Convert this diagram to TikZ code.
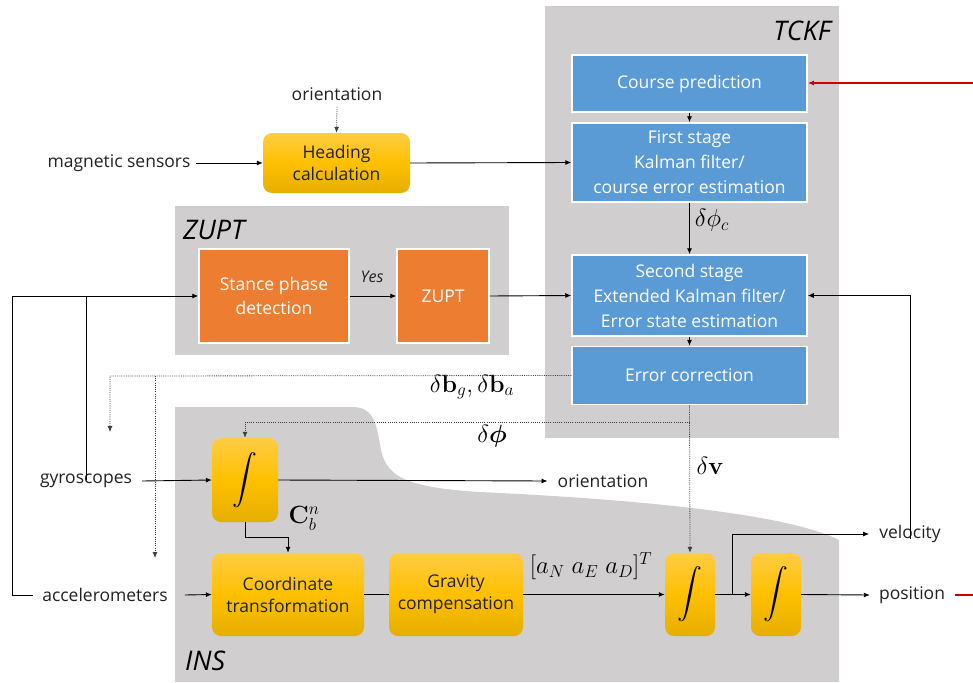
\documentclass[tikz,border=0pt]{standalone}
\usepackage{amsmath,bm}
\usepackage[no-math]{fontspec}
\setmainfont{Open Sans}
\usetikzlibrary{arrows.meta,calc}
\definecolor{gbg}{HTML}{D0CECE}
\definecolor{bfill}{HTML}{5B9BD5}
\definecolor{ofill}{HTML}{ED7D31}
\definecolor{ytop}{HTML}{FFCC44}
\definecolor{ymid}{HTML}{FFC000}
\definecolor{ybot}{HTML}{E5AE00}
\definecolor{txt}{HTML}{222222}
\definecolor{redline}{HTML}{D00000}
\tikzset{
  arr/.style={draw=black, line width=0.9pt, -{Latex[length=6pt,width=5pt]}},
  plain/.style={draw=black, line width=0.9pt},
  redarr/.style={draw=redline, fill=redline, line width=1.4pt, -{Latex[length=6pt,width=5pt]}},
  redplain/.style={draw=redline, line width=1.4pt},
  dotl/.style={draw=black!75, line width=0.8pt, dash pattern=on 1pt off 1.2pt},
  dotarr/.style={dotl, -{Latex[length=6pt,width=5pt]}},
  bbox/.style={rectangle, fill=bfill, draw=white, line width=1.5pt, text=white, align=center, inner sep=0pt, font=\fontsize{17.5}{25}\selectfont},
  obox/.style={rectangle, fill=ofill, draw=white, line width=1.5pt, text=white, align=center, inner sep=0pt, font=\fontsize{17.5}{24}\selectfont},
  ybox/.style={rectangle, rounded corners=9pt, top color=ytop, bottom color=ybot, middle color=ymid, draw=none, text=txt, align=center, inner sep=0pt, font=\fontsize{17.5}{22}\selectfont},
  lbl/.style={text=txt, inner sep=0pt, font=\fontsize{17.5}{20}\selectfont},
  mlbl/.style={text=black, inner sep=0pt, font=\fontsize{23}{24}\selectfont},
  title/.style={text=black, inner sep=0pt, font=\fontsize{27}{30}\selectfont\itshape},
  intg/.style={ybox, text=black, font=\fontsize{34}{36}\selectfont}
}
\begin{document}
\begin{tikzpicture}[x=1pt,y=-1pt]
\useasboundingbox (0,0) rectangle (973,682);
% gray regions
\fill[gbg] (175,682) -- (175,407) -- (352,407) .. controls (372,407) and (376,420) .. (380,445)
  .. controls (385,475) and (400,487) .. (480,492)
  .. controls (650,500) and (790,515) .. (839,540) -- (839,682) -- cycle;
\fill[gbg] (175,206) rectangle (509,355);
\fill[gbg] (545,6) rectangle (839,438);
\node[title, anchor=east] (tckf) at (831,31) {TCKF};
\node[title, anchor=west] (zuptl) at (183,230) {ZUPT};
\node[title, anchor=west] (insl) at (185,661) {INS};

% TCKF boxes
\node[bbox, minimum width=235pt, minimum height=57pt] (course) at (689.5,83.5) {Course prediction};
\node[bbox, minimum width=235pt, minimum height=79pt] (first) at (689.5,162.5) {First stage\\Kalman filter/\\course error estimation};
\node[bbox, minimum width=235pt, minimum height=81pt] (second) at (689.5,295.5) {Second stage\\Extended Kalman filter/\\Error state estimation};
\node[bbox, minimum width=235pt, minimum height=58pt] (errc) at (689.5,375.5) {Error correction};

% ZUPT boxes
\node[obox, minimum width=150pt, minimum height=94pt] (stance) at (274,296) {Stance phase\\detection};
\node[obox, minimum width=92pt, minimum height=94pt] (zupt) at (443,296) {ZUPT};

% yellow boxes
\node[ybox, minimum width=147pt, minimum height=60pt] (head) at (336.5,163) {Heading\\calculation};
\node[intg, minimum width=66pt, minimum height=84pt] (int1) at (245,480) {$\displaystyle\int$};
\node[ybox, minimum width=152pt, minimum height=83pt] (coord) at (288,594.5) {Coordinate\\transformation};
\node[ybox, minimum width=134pt, minimum height=83pt] (grav) at (456,594.5) {Gravity\\compensation};
\node[intg, minimum width=50pt, minimum height=83pt] (int2) at (690,594.5) {$\displaystyle\int$};
\node[intg, minimum width=50pt, minimum height=83pt] (int3) at (776,594.5) {$\displaystyle\int$};

% text labels
\node[lbl] (orient1) at (337,94) {orientation};
\node[lbl] (mag) at (119,163) {magnetic sensors};
\node[lbl] (gyro) at (86,481) {gyroscopes};
\node[lbl] (acc) at (105,595) {accelerometers};
\node[lbl] (orient2) at (603,481) {orientation};
\node[lbl] (vel) at (910,534) {velocity};
\node[lbl] (pos) at (912,595) {position};
\node[text=txt, inner sep=0pt, font=\fontsize{16}{18}\selectfont\itshape] (yes) at (372,277) {Yes};

% math labels
\node[mlbl] (dbl) at (472,387) {$\delta\mathbf{b}_g,\delta\mathbf{b}_a$};
\node[mlbl] (dphil) at (492,436) {$\delta\bm{\phi}$};
\node[mlbl] (dvl) at (710,466) {$\delta\mathbf{v}$};
\node[mlbl] (cbn) at (304,518) {$\mathbf{C}_b^n$};
\node[mlbl] (avec) at (591,566) {$[a_N\;a_E\;a_D]^T$};

% coordinates for free ends
\coordinate (redin) at (973,83);
\coordinate (redout) at (973,595);
\coordinate (lbus) at (12,595);
\coordinate (dleft) at (110,376);
\coordinate (dgyro) at (110,432);
\coordinate (dbr) at (155,376);
\coordinate (dacc) at (155,558);
\coordinate (dphi) at (690,422);

% connectors
\draw[redarr] (redin) -- (course.east |- redin);
\draw[redplain] ([xshift=10pt]pos.east) -- (redout);
\draw[arr] (course.south) -- (first.north);
\draw[arr] (first.south) -- node[mlbl, right=5pt, pos=0.35] {$\delta\phi_c$} (second.north);
\draw[arr] (second.south) -- (errc.north);
\draw[dotarr] (orient1.south)++(0,6) -- (head.north);
\draw[arr] ([xshift=5pt]mag.east) -- (head.west);
\draw[arr] (head.east) -- (first.west);
\draw[arr] (stance.east) -- (zupt.west);
\draw[arr] (zupt.east) -- (second.west);
\draw[arr] ([xshift=-9pt]acc.west) -- (lbus) |- (stance.west);
\draw[plain] ([yshift=-6pt]gyro.north) -- (gyro.north |- stance.west);
\draw[arr] ([xshift=10pt]gyro.east) -- (int1.west);
\draw[arr] ([xshift=17pt]acc.east) -- (coord.west);
\draw[arr] (int1.east) -- ([xshift=-10pt]orient2.west);
\draw[arr] (int1.south) -- ++(0,15) -| (coord.north);
\draw[plain] (coord.east) -- (grav.west);
\draw[arr] (grav.east) -- (int2.west);
\draw[arr] (int2.east) -- (int3.west);
\draw[arr] (int2.east) -- ++(17,0) |- ([xshift=-10pt]vel.west);
\draw[arr] (int3.east) -- ([xshift=-9pt]pos.west);
\draw[arr] ([yshift=-14pt]vel.north) |- (second.east);
% dotted corrections
\draw[dotarr] (errc.west) -- (dleft) -- (dgyro);
\draw[dotarr] (dbr) -- (dacc);
\draw[dotarr] (errc.south) -- (int2.north);
\draw[dotarr] (dphi) -| (int1.north);
\end{tikzpicture}
\end{document}
